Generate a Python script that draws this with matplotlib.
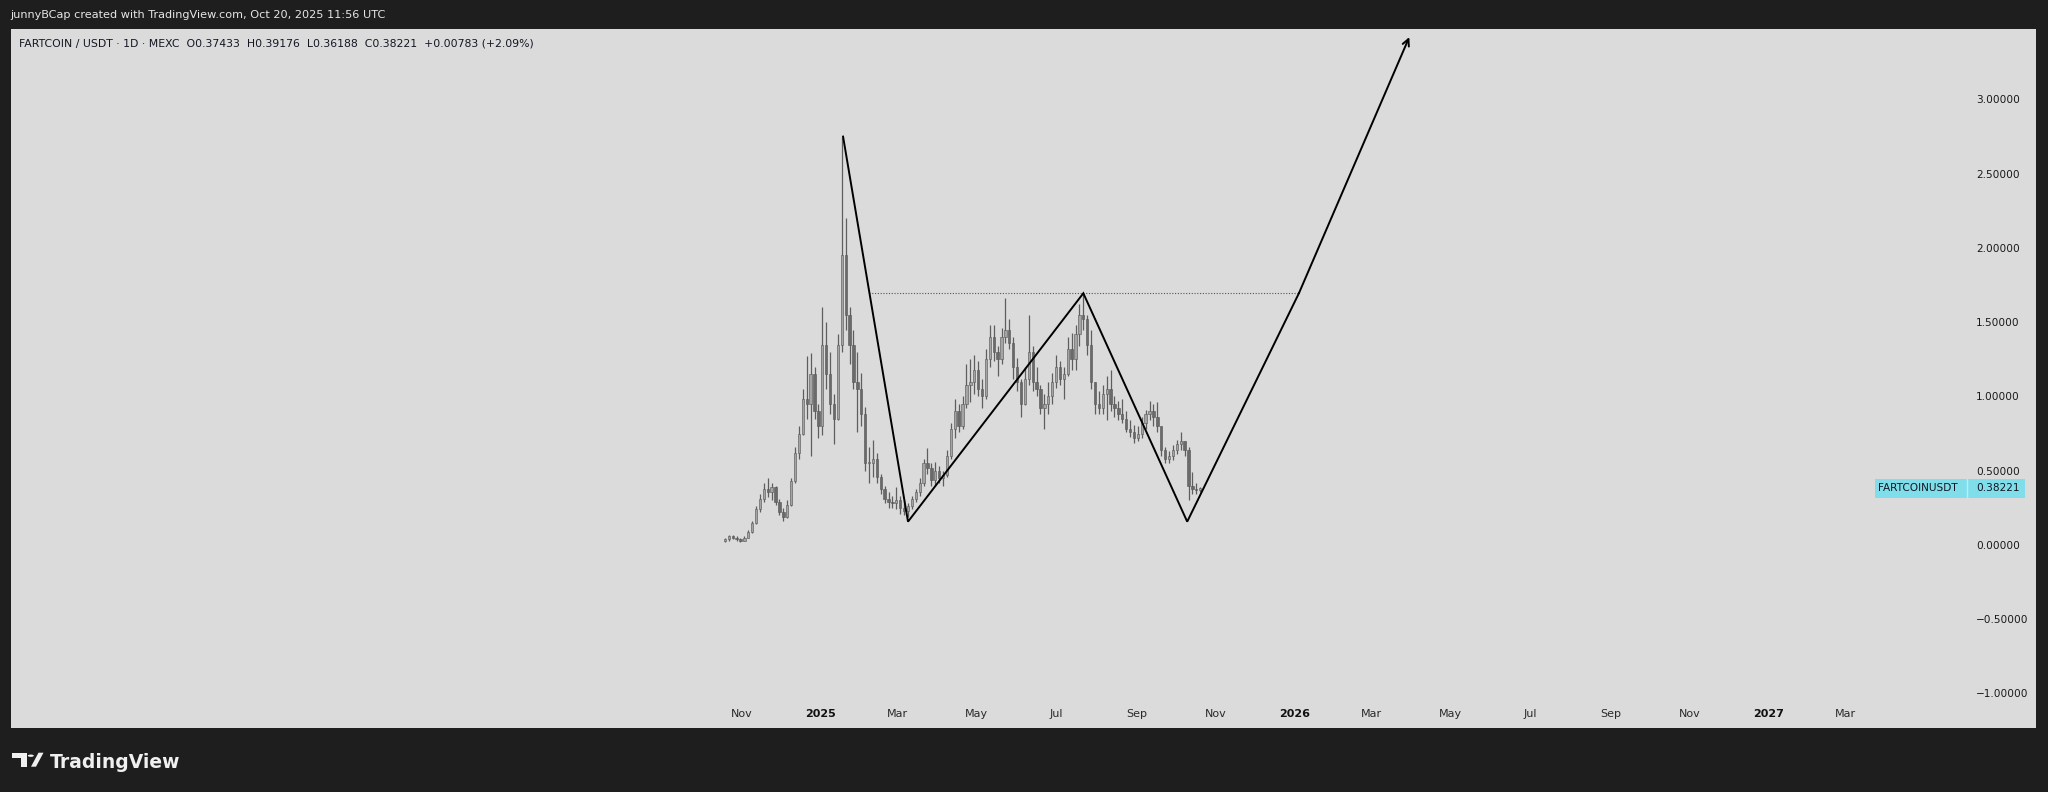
import numpy as np
import pandas as pd
import matplotlib
matplotlib.use("Agg")
import matplotlib.pyplot as plt
import matplotlib.dates as mdates
from matplotlib.patches import Rectangle, Polygon, Circle
from matplotlib.transforms import blended_transform_factory

W, H = 2048, 792

# price bars (3-day buckets), first bar 2024-10-19
bar_start = "2024-10-19"
first_open = 0.03
lows = [
    0.02, 0.03, 0.04, 0.03, 0.02, 0.03, 0.05, 0.08, 0.14, 0.22,
    0.29, 0.32, 0.30, 0.27, 0.20, 0.16, 0.18, 0.26, 0.42, 0.58,
    0.74, 0.85, 0.60, 0.85, 0.72, 0.74, 1.05, 0.88, 0.68, 0.84,
    1.30, 1.45, 1.22, 1.05, 0.76, 0.80, 0.50, 0.42, 0.46, 0.42,
    0.34, 0.28, 0.25, 0.25, 0.24, 0.21, 0.20, 0.19, 0.24, 0.29,
    0.33, 0.40, 0.48, 0.40, 0.40, 0.42, 0.40, 0.46, 0.58, 0.72,
    0.76, 0.78, 0.92, 0.96, 1.02, 1.00, 0.92, 0.98, 1.20, 1.24,
    1.14, 1.22, 1.36, 1.32, 1.12, 1.04, 0.86, 0.94, 1.08, 1.04,
    1.00, 0.88, 0.78, 0.88, 0.95, 1.06, 1.08, 0.98, 1.14, 1.18,
    1.18, 1.34, 1.45, 1.28, 1.05, 0.88, 0.88, 0.88, 0.84, 0.90,
    0.86, 0.84, 0.82, 0.76, 0.73, 0.69, 0.70, 0.72, 0.78, 0.84,
    0.80, 0.76, 0.60, 0.55, 0.55, 0.57, 0.61, 0.64, 0.60, 0.30,
    0.34, 0.34, 0.36,
]
highs = [
    0.05, 0.07, 0.07, 0.06, 0.05, 0.06, 0.10, 0.16, 0.26, 0.34,
    0.42, 0.45, 0.42, 0.40, 0.31, 0.25, 0.30, 0.45, 0.66, 0.80,
    1.05, 1.27, 1.29, 1.20, 0.95, 1.60, 1.50, 1.30, 1.02, 1.42,
    2.75, 2.20, 1.60, 1.45, 1.30, 1.16, 0.93, 0.66, 0.71, 0.62,
    0.48, 0.40, 0.36, 0.33, 0.39, 0.33, 0.30, 0.28, 0.33, 0.38,
    0.45, 0.58, 0.65, 0.55, 0.56, 0.53, 0.50, 0.64, 0.82, 0.98,
    0.95, 1.00, 1.22, 1.25, 1.28, 1.24, 1.12, 1.32, 1.48, 1.48,
    1.34, 1.46, 1.66, 1.52, 1.40, 1.26, 1.12, 1.20, 1.55, 1.34,
    1.20, 1.08, 1.02, 1.10, 1.16, 1.28, 1.24, 1.20, 1.40, 1.43,
    1.48, 1.62, 1.70, 1.55, 1.45, 1.10, 1.04, 1.08, 1.14, 1.18,
    1.00, 0.97, 0.98, 0.90, 0.84, 0.81, 0.80, 0.86, 0.91, 0.97,
    0.95, 0.96, 0.80, 0.66, 0.63, 0.67, 0.71, 0.76, 0.70, 0.66,
    0.49, 0.42, 0.39,
]
closes = [
    0.04, 0.06, 0.05, 0.04, 0.03, 0.05, 0.09, 0.15, 0.24, 0.31,
    0.38, 0.36, 0.39, 0.29, 0.22, 0.19, 0.27, 0.43, 0.62, 0.75,
    0.98, 0.95, 1.15, 0.90, 0.80, 1.35, 1.15, 0.95, 0.85, 1.35,
    1.95, 1.55, 1.35, 1.10, 1.05, 0.88, 0.55, 0.55, 0.58, 0.46,
    0.38, 0.31, 0.29, 0.28, 0.30, 0.25, 0.23, 0.26, 0.31, 0.36,
    0.42, 0.55, 0.52, 0.44, 0.50, 0.45, 0.47, 0.60, 0.78, 0.90,
    0.80, 0.95, 1.08, 1.10, 1.18, 1.05, 1.00, 1.25, 1.40, 1.30,
    1.25, 1.40, 1.45, 1.36, 1.20, 1.10, 0.95, 1.12, 1.30, 1.10,
    1.05, 0.92, 0.95, 1.00, 1.10, 1.20, 1.12, 1.15, 1.32, 1.25,
    1.42, 1.55, 1.52, 1.35, 1.10, 0.95, 0.92, 1.02, 1.05, 0.95,
    0.92, 0.88, 0.85, 0.78, 0.76, 0.72, 0.75, 0.82, 0.88, 0.90,
    0.86, 0.80, 0.64, 0.58, 0.60, 0.64, 0.68, 0.70, 0.64, 0.40,
    0.38, 0.37, 0.38221,
]

# drawn pattern (W shape + projection)
pattern_dates = ["2025-01-18", "2025-03-09", "2025-07-22", "2025-10-10", "2026-01-04", "2026-03-30"]
pattern_prices = [2.75, 0.157, 1.695, 0.157, 1.695, 3.42]
neck_dates = ["2025-02-07", "2026-01-04"]
neck_price = 1.695

tick_dates = ["2024-11-01", "2025-01-01", "2025-03-01", "2025-05-01", "2025-07-01",
              "2025-09-01", "2025-11-01", "2026-01-01", "2026-03-01", "2026-05-01",
              "2026-07-01", "2026-09-01", "2026-11-01", "2027-01-01", "2027-03-01"]
tick_labels = ["Nov", "2025", "Mar", "May", "Jul", "Sep", "Nov", "2026", "Mar", "May",
               "Jul", "Sep", "Nov", "2027", "Mar"]
price_ticks = [-1.0, -0.5, 0.0, 0.5, 1.0, 1.5, 2.0, 2.5, 3.0]

symbol = "FARTCOINUSDT"
last_price = 0.38221
header = "junnyBCap created with TradingView.com, Oct 20, 2025 11:56 UTC"
legend_line = "FARTCOIN / USDT \u00b7 1D \u00b7 MEXC  O0.37433  H0.39176  L0.36188  C0.38221  +0.00783 (+2.09%)"


def fx(px):
    return px / W


def fy(py):
    return 1 - py / H


fig = plt.figure(figsize=(W / 100, H / 100), dpi=100, facecolor="#1e1e1e")

# light chart panel
fig.add_artist(Rectangle((fx(10.5), fy(727.5)), (2036 - 10.5) / W, (727.5 - 28.5) / H,
                         transform=fig.transFigure, facecolor="#dbdbdb", edgecolor="none", zorder=0))

ax = fig.add_axes([fx(10.5), fy(700), (1962 - 10.5) / W, (700 - 28.5) / H])
ax.set_facecolor("none")
for s in ax.spines.values():
    s.set_visible(False)

base = pd.Timestamp("2025-01-01")
ax.set_xlim(mdates.date2num(base + pd.Timedelta(days=-624.1)),
            mdates.date2num(base + pd.Timedelta(days=878.6)))
ax.set_ylim(-1.044, 3.478)

# candles
dates = mdates.date2num(pd.date_range(bar_start, periods=len(closes), freq="3D"))
o = np.array([first_open] + closes[:-1])
c = np.array(closes)
lo = np.array(lows)
hi = np.array(highs)
up = c >= o
body_col = np.where(up, "#a4a4a4", "#6a6a6a")
ax.vlines(dates, lo, hi, color="#5e5e5e", lw=0.9, zorder=2)
ax.bar(dates, np.maximum(np.abs(c - o), 0.006), bottom=np.minimum(o, c), width=1.8,
       color=body_col, edgecolor="#555555", lw=0.4, zorder=3)

# pattern drawing
pd_num = mdates.date2num(pd.to_datetime(pattern_dates))
ax.plot(pd_num[:-1], pattern_prices[:-1], color="black", lw=1.4, zorder=5,
        solid_joinstyle="miter")
ax.annotate("", xy=(pd_num[-1], pattern_prices[-1]), xytext=(pd_num[-2], pattern_prices[-2]),
            arrowprops=dict(arrowstyle="->", lw=1.4, color="black", mutation_scale=12,
                            shrinkA=0, shrinkB=0), zorder=5)
neck_num = mdates.date2num(pd.to_datetime(neck_dates))
ax.plot(neck_num, [neck_price, neck_price], color="#555555", lw=0.8,
        linestyle=(0, (1, 1.5)), zorder=4)

# axes labels
ax.yaxis.tick_right()
ax.set_yticks(price_ticks)
ax.set_yticklabels([f"{v:.5f}".replace("-", "\u2212") for v in price_ticks])
ax.tick_params(axis="y", length=0, pad=10, labelsize=7.6, labelcolor="#1a1a1a")
ax.set_xticks(mdates.date2num(pd.to_datetime(tick_dates)))
ax.set_xticklabels(tick_labels)
ax.tick_params(axis="x", length=0, pad=6.5, labelsize=8, labelcolor="#2a2a2a")
for t in ax.get_xticklabels():
    if t.get_text().isdigit():
        t.set_fontweight("bold")
        t.set_color("#111111")

# last price label
trans = blended_transform_factory(ax.transAxes, ax.transData)
bh = 19 / 148.5
ax.add_patch(Rectangle((0.95542, last_price - bh / 2), 0.07686, bh, transform=trans,
                       facecolor="#80deea", edgecolor="none", clip_on=False, zorder=6))
ax.plot([1.0028, 1.0028], [last_price - bh / 2, last_price + bh / 2], transform=trans,
        color="#b9eef5", lw=1, clip_on=False, zorder=7)
ax.text(0.9572, last_price, symbol, transform=trans, ha="left", va="center",
        fontsize=7.6, color="#131722", zorder=8, clip_on=False)
ax.text(1.0074, last_price, f"{last_price:.5f}", transform=trans, ha="left", va="center",
        fontsize=7.6, color="#131722", zorder=8, clip_on=False)

# header / legend text
fig.text(fx(10), fy(15), header, color="#e6e6e6", fontsize=8.1, ha="left", va="center")
fig.text(fx(19), fy(44), legend_line, color="#131722", fontsize=7.85, ha="left", va="center")

# TradingView logo
fig.add_artist(Polygon([(fx(12.3), fy(752.7)), (fx(26.7), fy(752.7)), (fx(26.7), fy(766.7)),
                        (fx(20.7), fy(766.7)), (fx(20.7), fy(758.3)), (fx(12.3), fy(758.3))],
                       closed=True, transform=fig.transFigure, facecolor="#f0f0f0", edgecolor="none"))
fig.add_artist(Circle((fx(30.8), fy(755.7)), 3.0 / W, transform=fig.transFigure,
                      facecolor="#f0f0f0", edgecolor="none"))
fig.add_artist(Polygon([(fx(31.0), fy(766.7)), (fx(36.0), fy(766.7)), (fx(43.5), fy(752.7)),
                        (fx(38.5), fy(752.7))],
                       closed=True, transform=fig.transFigure, facecolor="#f0f0f0", edgecolor="none"))
fig.text(fx(50), fy(762), "TradingView", color="#f0f0f0", fontsize=13.5, fontweight="bold",
         ha="left", va="center")

fig.savefig("out.png", dpi=100, facecolor=fig.get_facecolor())
